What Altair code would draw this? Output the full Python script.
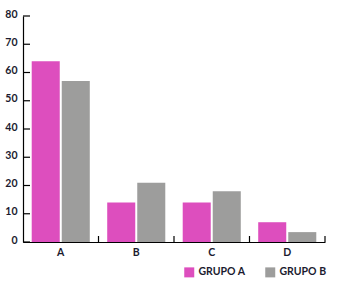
import altair as alt
import pandas as pd

categories = ["A", "B", "C", "D"]
grupo_a = [64, 14, 14, 7]
grupo_b = [57, 21, 18, 3.5]
series = ["GRUPO A", "GRUPO B"]
y_ticks = [0, 10, 20, 30, 40, 50, 60, 70, 80]

rows = []
for c, a, b in zip(categories, grupo_a, grupo_b):
    rows.append({"cat": c, "grupo": series[0], "valor": a})
    rows.append({"cat": c, "grupo": series[1], "valor": b})
df = pd.DataFrame(rows)
df_ticks = pd.DataFrame({"v": y_ticks})
df_cats = pd.DataFrame({"cat": categories})

W, H = 302, 226
FONT = "Lato"
TXT = "#1b1b2f"

xscale = alt.Scale(paddingInner=0, paddingOuter=0)
yscale = alt.Scale(domain=[0, 80], nice=False)
x_axis = alt.Axis(ticks=False, labelAngle=0, labelPadding=5, title=None,
                  domainColor="#000000", domainWidth=1.2)
y_axis = alt.Axis(values=y_ticks, ticks=False, grid=False, labelPadding=6, title=None,
                  labelOverlap=False, labelFlush=False,
                  labelOffset=-2, domainColor="#000000", domainWidth=1.2)

bars = alt.Chart(df).mark_bar().encode(
    x=alt.X("cat:N", scale=xscale, sort=categories, axis=x_axis),
    xOffset=alt.XOffset("grupo:N", scale=alt.Scale(paddingInner=0.0667, paddingOuter=0.29)),
    y=alt.Y("valor:Q", scale=yscale, axis=y_axis),
    color=alt.Color("grupo:N", title=None,
                    scale=alt.Scale(domain=series, range=["#DD4EBE", "#9D9D9C"]),
                    legend=alt.Legend(orient="none", legendX=161, legendY=251,
                                      direction="horizontal", symbolType="square",
                                      symbolSize=100, symbolStrokeWidth=0,
                                      labelOffset=4, columnPadding=19, padding=0,
                                      labelFont=FONT, labelFontSize=10.5,
                                      labelFontWeight="bold", labelColor=TXT)),
)

yticks = alt.Chart(df_ticks).mark_rule(color="#000000", strokeWidth=1.2).encode(
    y=alt.Y("v:Q", scale=yscale, axis=y_axis),
    x=alt.value(0),
    x2=alt.value(7),
)

xticks = alt.Chart(df_cats).mark_rule(color="#000000", strokeWidth=1.2).encode(
    x=alt.X("cat:N", sort=categories, bandPosition=1, scale=xscale, axis=x_axis),
    y=alt.value(H - 6),
    y2=alt.value(H),
)

chart = alt.layer(bars, yticks, xticks).properties(
    width=W, height=H,
    autosize=alt.AutoSizeParams(type="none"),
    padding={"left": 23, "top": 16, "right": 15, "bottom": 45},
).configure_view(stroke=None).configure_axis(
    labelFont=FONT, labelFontSize=10.5, labelFontWeight="bold", labelColor=TXT,
)

chart.save("out.html", embed_options={"renderer": "svg", "actions": False})
